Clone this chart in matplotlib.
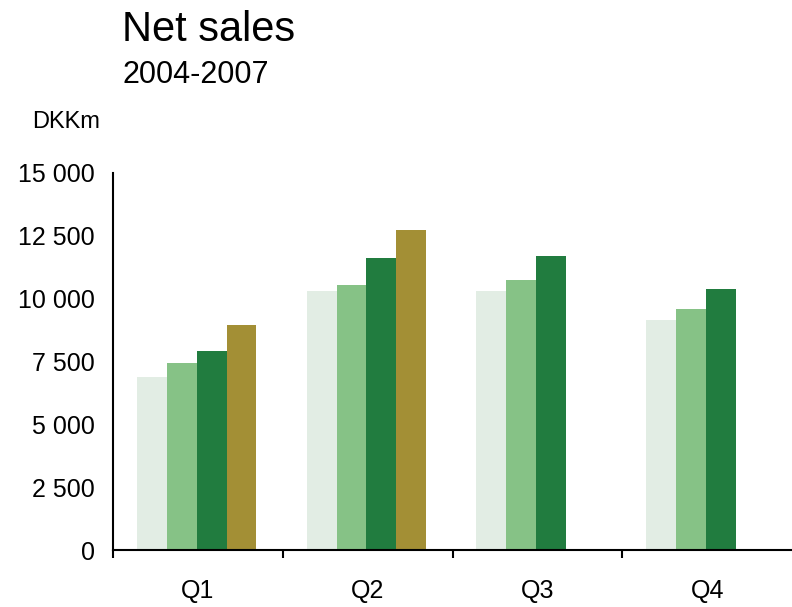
import matplotlib
matplotlib.use("Agg")
import matplotlib.pyplot as plt
import numpy as np

plt.rcParams['font.family'] = ['Liberation Sans', 'DejaVu Sans']

quarters = ["Q1", "Q2", "Q3", "Q4"]
years = ["2004", "2005", "2006", "2007"]
values = {
    "2004": [6900, 10300, 10300, 9150],
    "2005": [7450, 10550, 10750, 9600],
    "2006": [7900, 11600, 11700, 10400],
    "2007": [8950, 12750, np.nan, np.nan],
}
colors = {"2004": "#E2EDE4", "2005": "#86C286", "2006": "#217C3F", "2007": "#A38F35"}
yticks = [0, 2500, 5000, 7500, 10000, 12500, 15000]
ytick_labels = ["0", "2 500", "5 000", "7 500", "10 000", "12 500", "15 000"]

fig = plt.figure(figsize=(7.92, 6.07), dpi=100)
ax = fig.add_axes([113/792, 1-550/607, 1-113/792, (550-173)/607])

bw = 0.176
start = 0.141
x0 = np.arange(len(quarters))
for i, y in enumerate(years):
    v = np.array(values[y], dtype=float)
    mask = ~np.isnan(v)
    ax.bar(x0[mask] + start + i*bw, v[mask], width=bw, align='edge',
           color=colors[y], linewidth=0, zorder=2)

ax.set_xlim(0, 4)
ax.set_ylim(0, 15000)
ax.set_yticks(yticks)
ax.set_yticklabels(ytick_labels, fontsize=18)
ax.tick_params(axis='y', length=0, pad=13)

ax.set_xticks([0, 1, 2, 3])
ax.set_xticklabels([])
ax.tick_params(axis='x', which='major', direction='out', length=6, width=1.5)
ax.set_xticks(x0 + 0.5, minor=True)
ax.set_xticklabels(quarters, minor=True, fontsize=18)
ax.tick_params(axis='x', which='minor', length=0, pad=21)

for s in ['top', 'right']:
    ax.spines[s].set_visible(False)
for s in ['left', 'bottom']:
    ax.spines[s].set_linewidth(1.5)
    ax.spines[s].set_color('black')

fig.text(122/792, 1-41/607, "Net sales", fontsize=30, va='baseline', ha='left')
fig.text(122/792, 1-83/607, "2004-2007", fontsize=22, va='baseline', ha='left')
fig.text(32/792, 1-128/607, "DKKm", fontsize=17, va='baseline', ha='left')

fig.savefig("out.png", dpi=100)
